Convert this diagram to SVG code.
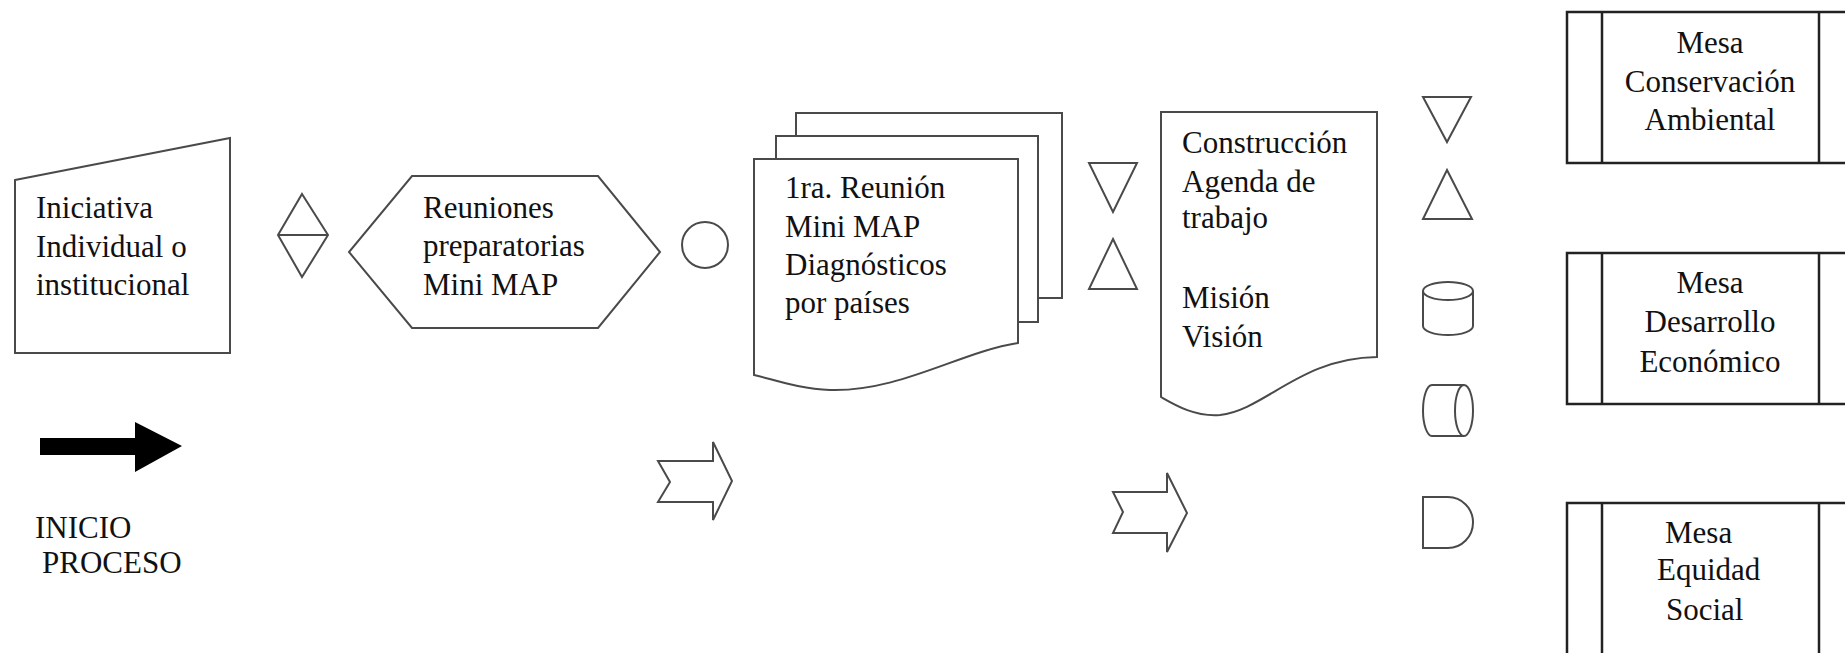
<svg xmlns="http://www.w3.org/2000/svg" width="1845" height="653" viewBox="0 0 1845 653">
<style>
.s{fill:#fff;stroke:#4a4a4a;stroke-width:2;stroke-linejoin:miter}
.m{fill:#fff;stroke:#222;stroke-width:2.5}
.ml{stroke:#222;stroke-width:2.5;fill:none}
text{font-family:"Liberation Serif","Tinos","Times New Roman","Times","Noto Serif","DejaVu Serif","FreeSerif",serif;font-size:31px;fill:#111}
.c{text-anchor:middle}
</style>
<rect width="1845" height="653" fill="#fff"/>
<g id="iniciativa">
<polygon class="s" points="15,180 230,138 230,353 15,353"/>
<text x="36" y="218">Iniciativa</text>
<text x="36" y="257">Individual o</text>
<text x="36" y="295">institucional</text>
</g>
<g id="diamond1">
<polygon class="s" points="302,194 328,235 302,277 278,235"/>
<line class="s" x1="278" y1="235" x2="328" y2="235"/>
</g>
<g id="reuniones">
<polygon class="s" points="412,176 598,176 660,252 598,328 412,328 349,252"/>
<text x="423" y="218">Reuniones</text>
<text x="423" y="256">preparatorias</text>
<text x="423" y="295">Mini MAP</text>
</g>
<g id="circle1">
<circle class="s" cx="705" cy="245" r="23"/>
</g>
<g id="reunion1">
<polygon class="s" points="796,113 1062,113 1062,298 1038,298 1038,136 796,136"/>
<polygon class="s" points="776,136 1038,136 1038,322 1018,322 1018,159 776,159"/>
<path class="s" d="M754,159 L1018,159 L1018,343 C960,352 900,392 830,390 C800,389 775,380 754,375 Z"/>
<text x="785" y="198">1ra. Reunión</text>
<text x="785" y="237">Mini MAP</text>
<text x="785" y="275">Diagnósticos</text>
<text x="785" y="313">por países</text>
</g>
<g id="tri1">
<polygon class="s" points="1089,163 1137,163 1113,212"/>
<polygon class="s" points="1113,239 1137,289 1089,289"/>
</g>
<g id="construccion">
<path class="s" d="M1161,112 L1377,112 L1377,357 C1300,358 1265,410 1220,415 C1195,417 1175,405 1161,397 Z"/>
<text x="1182" y="153">Construcción</text>
<text x="1182" y="192">Agenda de</text>
<text x="1182" y="228">trabajo</text>
<text x="1182" y="308">Misión</text>
<text x="1182" y="347">Visión</text>
</g>
<g id="tri2">
<polygon class="s" points="1423,97 1471,97 1447,142"/>
<polygon class="s" points="1447,170 1472,219 1423,219"/>
</g>
<g id="cylinder">
<path class="s" d="M1423,291 L1423,326 A25,9 0 0 0 1473,326 L1473,291"/>
<ellipse class="s" cx="1448" cy="291" rx="25" ry="9"/>
</g>
<g id="hcylinder">
<path class="s" d="M1464,385 L1432,385 A9,25.5 0 0 0 1432,436 L1464,436"/>
<ellipse class="s" cx="1464" cy="410.5" rx="9" ry="25.5"/>
</g>
<g id="delay">
<path class="s" d="M1423,497 L1448,497 A25,25.5 0 0 1 1448,548 L1423,548 Z"/>
</g>
<g id="mesa1">
<rect class="m" x="1567" y="12" width="290" height="151"/>
<line class="ml" x1="1602" y1="12" x2="1602" y2="163"/>
<line class="ml" x1="1819" y1="12" x2="1819" y2="163"/>
<text class="c" x="1710" y="53">Mesa</text>
<text class="c" x="1710" y="92">Conservación</text>
<text class="c" x="1710" y="130">Ambiental</text>
</g>
<g id="mesa2">
<rect class="m" x="1567" y="253" width="290" height="151"/>
<line class="ml" x1="1602" y1="253" x2="1602" y2="404"/>
<line class="ml" x1="1819" y1="253" x2="1819" y2="404"/>
<text class="c" x="1710" y="293">Mesa</text>
<text class="c" x="1710" y="332">Desarrollo</text>
<text class="c" x="1710" y="372">Económico</text>
</g>
<g id="mesa3">
<rect class="m" x="1567" y="503" width="290" height="160"/>
<line class="ml" x1="1602" y1="503" x2="1602" y2="663"/>
<line class="ml" x1="1819" y1="503" x2="1819" y2="663"/>
<text x="1665" y="543">Mesa</text>
<text x="1657" y="580">Equidad</text>
<text x="1666" y="620">Social</text>
</g>
<g id="connectors">
<polygon fill="#000" points="40,438 135,438 135,422 182,446 135,472 135,455 40,455"/>
<polygon class="s" points="658,461 713,461 713,442 732,481 713,520 713,502 658,502 670,482"/>
<polygon class="s" points="1113,492 1167,492 1167,473 1187,513 1167,552 1167,533 1113,533 1123,512"/>
</g>
<g id="inicio">
<text x="35" y="538">INICIO</text>
<text x="42" y="573">PROCESO</text>
</g>
</svg>
